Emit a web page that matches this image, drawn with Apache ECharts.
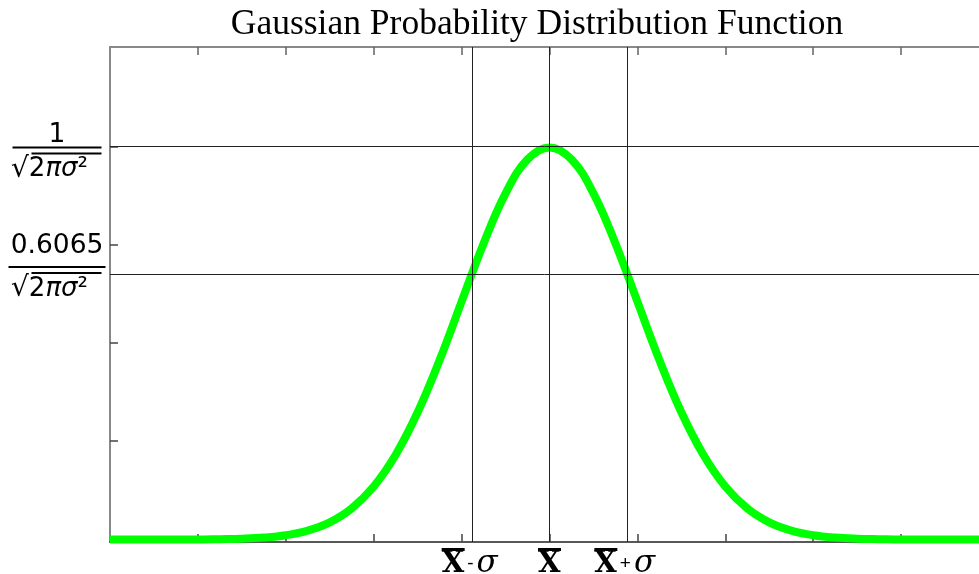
<!DOCTYPE html>
<html>
<head>
<meta charset="utf-8">
<script src="https://cdn.jsdelivr.net/npm/echarts@6/dist/echarts.min.js"></script>
<style>
html,body{margin:0;padding:0;background:#fff;}
#chart{width:979px;height:574px;}
</style>
</head>
<body>
<div id="chart"></div>
<script>
// ---- data ----
const titleText = 'Gaussian Probability Distribution Function';
const xValues = [-5,-4.75,-4.5,-4.25,-4,-3.75,-3.5,-3.25,-3,-2.75,-2.5,-2.25,-2,-1.75,-1.5,-1.25,-1,-0.75,-0.5,-0.25,0,
                 0.25,0.5,0.75,1,1.25,1.5,1.75,2,2.25,2.5,2.75,3,3.25,3.5,3.75,4,4.25,4.5,4.75,5];
const yValues = [0,0,0,0,0,0.0004,0.0009,0.002,0.0044,0.0091,0.0175,0.0317,0.054,0.0863,0.1295,0.1826,0.242,0.3011,0.3521,0.3867,0.3989,
                 0.3867,0.3521,0.3011,0.242,0.1826,0.1295,0.0863,0.054,0.0317,0.0175,0.0091,0.0044,0.002,0.0009,0.0004,0,0,0,0,0];
const xTickValues = [-4,-3,-2,-1,0,1,2,3,4];
const yTickValues = [0.1,0.2,0.3,0.4];
const xRefLines = [-0.88, 0, 0.88];
const yRefLines = [0.3989, 0.2742];
const xLabelValues = [-0.88, 0, 0.88];
const xLabelTexts = [
  '{ovx| }{ovsp1| }\n{x|X}{op|-}{s|σ}',
  '{ovx| }\n{x|X}',
  '{ovx| }{ovsp2| }\n{x|X}{op|+}{s|σ}'
];
const yLabelValues = [0.3989, 0.2742];
const yLabelTexts = [
  '{top| }\n{num|1}\n{bar| }\n{rs| }{ov| }\n{rad|√}{d|2}{gk|π}{gk|σ}{sup|²}{tail| }',
  '{num2|0.6065}\n{bar2| }\n{rs| }{ov| }\n{rad|√}{d|2}{gk|π}{gk|σ}{sup|²}{tail| }\n{pad| }'
];

const chart = echarts.init(document.getElementById('chart'), null, {renderer: 'canvas'});

function nearestIndex(arr, v) {
  let best = 0;
  for (let i = 1; i < arr.length; i++) if (Math.abs(arr[i] - v) < Math.abs(arr[best] - v)) best = i;
  return best;
}

const xRich = {
  ovx: {width: 23, height: 3, lineHeight: 3, fontSize: 1, backgroundColor: '#000', align: 'left'},
  ovsp1: {width: 38, height: 3, lineHeight: 3, fontSize: 1, align: 'left'},
  ovsp2: {width: 42, height: 3, lineHeight: 3, fontSize: 1, align: 'left'},
  x: {fontFamily: 'DejaVu Serif', fontSize: 29, fontWeight: 'bold', lineHeight: 24, padding: [2, 0, 0, 0], color: '#000', align: 'left'},
  op: {fontFamily: 'Liberation Sans', fontSize: 19, lineHeight: 24, padding: [2, 3, 0, 3], color: '#000', align: 'left'},
  s: {fontFamily: 'DejaVu Serif', fontStyle: 'italic', fontSize: 31, lineHeight: 24, padding: [2, 0, 0, 0], color: '#000', align: 'left'}
};

const denStyle = {fontFamily: 'DejaVu Sans', fontSize: 26, lineHeight: 30, color: '#000'};
const yRich = {
  top: {height: 13, lineHeight: 13, fontSize: 1},
  num: {fontFamily: 'DejaVu Sans', fontSize: 26.5, lineHeight: 23, color: '#000'},
  num2: {fontFamily: 'DejaVu Sans', fontSize: 26.5, lineHeight: 40, color: '#000'},
  bar: {width: 89, height: 2, lineHeight: 2, fontSize: 1, backgroundColor: '#000'},
  bar2: {width: 97, height: 2, lineHeight: 2, fontSize: 1, backgroundColor: '#000'},
  rs: {width: 19, height: 2, lineHeight: 6, fontSize: 1},
  ov: {width: 70, height: 2, lineHeight: 6, fontSize: 1, backgroundColor: '#000', verticalAlign: 'bottom'},
  rad: {fontFamily: 'DejaVu Sans', fontSize: 28, lineHeight: 30, color: '#000'},
  d: denStyle,
  gk: Object.assign({}, denStyle, {fontStyle: 'italic'}),
  sup: denStyle,
  tail: {width: 15, height: 2, lineHeight: 30, fontSize: 1},
  pad: {height: 10, lineHeight: 10, fontSize: 1}
};

const option = {
  backgroundColor: '#fff',
  animation: false,
  title: {
    text: titleText,
    left: 532,
    top: 2,
    textAlign: 'center',
    textStyle: {fontFamily: 'Liberation Serif', fontWeight: 'normal', fontSize: 35.5, color: '#000'}
  },
  grid: {left: 110, top: 47, right: 0, height: 495, containLabel: false, outerBoundsMode: 'none'},
  xAxis: [{
    type: 'value', min: -5, max: 4.886, interval: 1,
    axisLine: {show: true, onZero: false, lineStyle: {color: '#222', width: 1.5}},
    axisTick: {show: true, inside: true, length: 8, customValues: xTickValues, lineStyle: {color: '#444', width: 1.5}},
    splitLine: {show: false},
    axisLabel: {
      show: true, customValues: xLabelValues, margin: 6, color: '#000',
      formatter: function (v) { return xLabelTexts[nearestIndex(xLabelValues, v)]; },
      rich: xRich
    }
  }, {
    type: 'value', min: -5, max: 4.886, interval: 1, position: 'top',
    axisLine: {show: true, onZero: false, lineStyle: {color: '#888', width: 2}},
    axisTick: {show: true, inside: true, length: 8, customValues: xTickValues, lineStyle: {color: '#666', width: 1.5}},
    axisLabel: {show: false},
    splitLine: {show: false}
  }],
  yAxis: {
    type: 'value', min: -0.0025, max: 0.501,
    axisLine: {show: true, onZero: false, lineStyle: {color: '#888', width: 2}},
    axisTick: {show: true, inside: true, length: 8, customValues: yTickValues, lineStyle: {color: '#444', width: 1.5}},
    splitLine: {show: false},
    axisLabel: {
      show: true, customValues: yLabelValues, margin: 53, align: 'center', color: '#000',
      formatter: function (v) { return yLabelTexts[nearestIndex(yLabelValues, v)]; },
      rich: yRich
    }
  },
  series: [{
    type: 'line',
    xAxisIndex: 0,
    data: xValues.map((x, i) => [x, yValues[i]]),
    smooth: 0.4,
    showSymbol: false,
    symbol: 'none',
    lineStyle: {color: '#00ff00', width: 8},
    clip: true,
    markLine: {
      silent: true,
      symbol: ['none', 'none'],
      label: {show: false},
      lineStyle: {color: '#222', width: 1, type: 'solid'},
      data: xRefLines.map(v => ({xAxis: v})).concat(yRefLines.map(v => ({yAxis: v})))
    }
  }]
};
chart.setOption(option);
</script>
</body>
</html>
